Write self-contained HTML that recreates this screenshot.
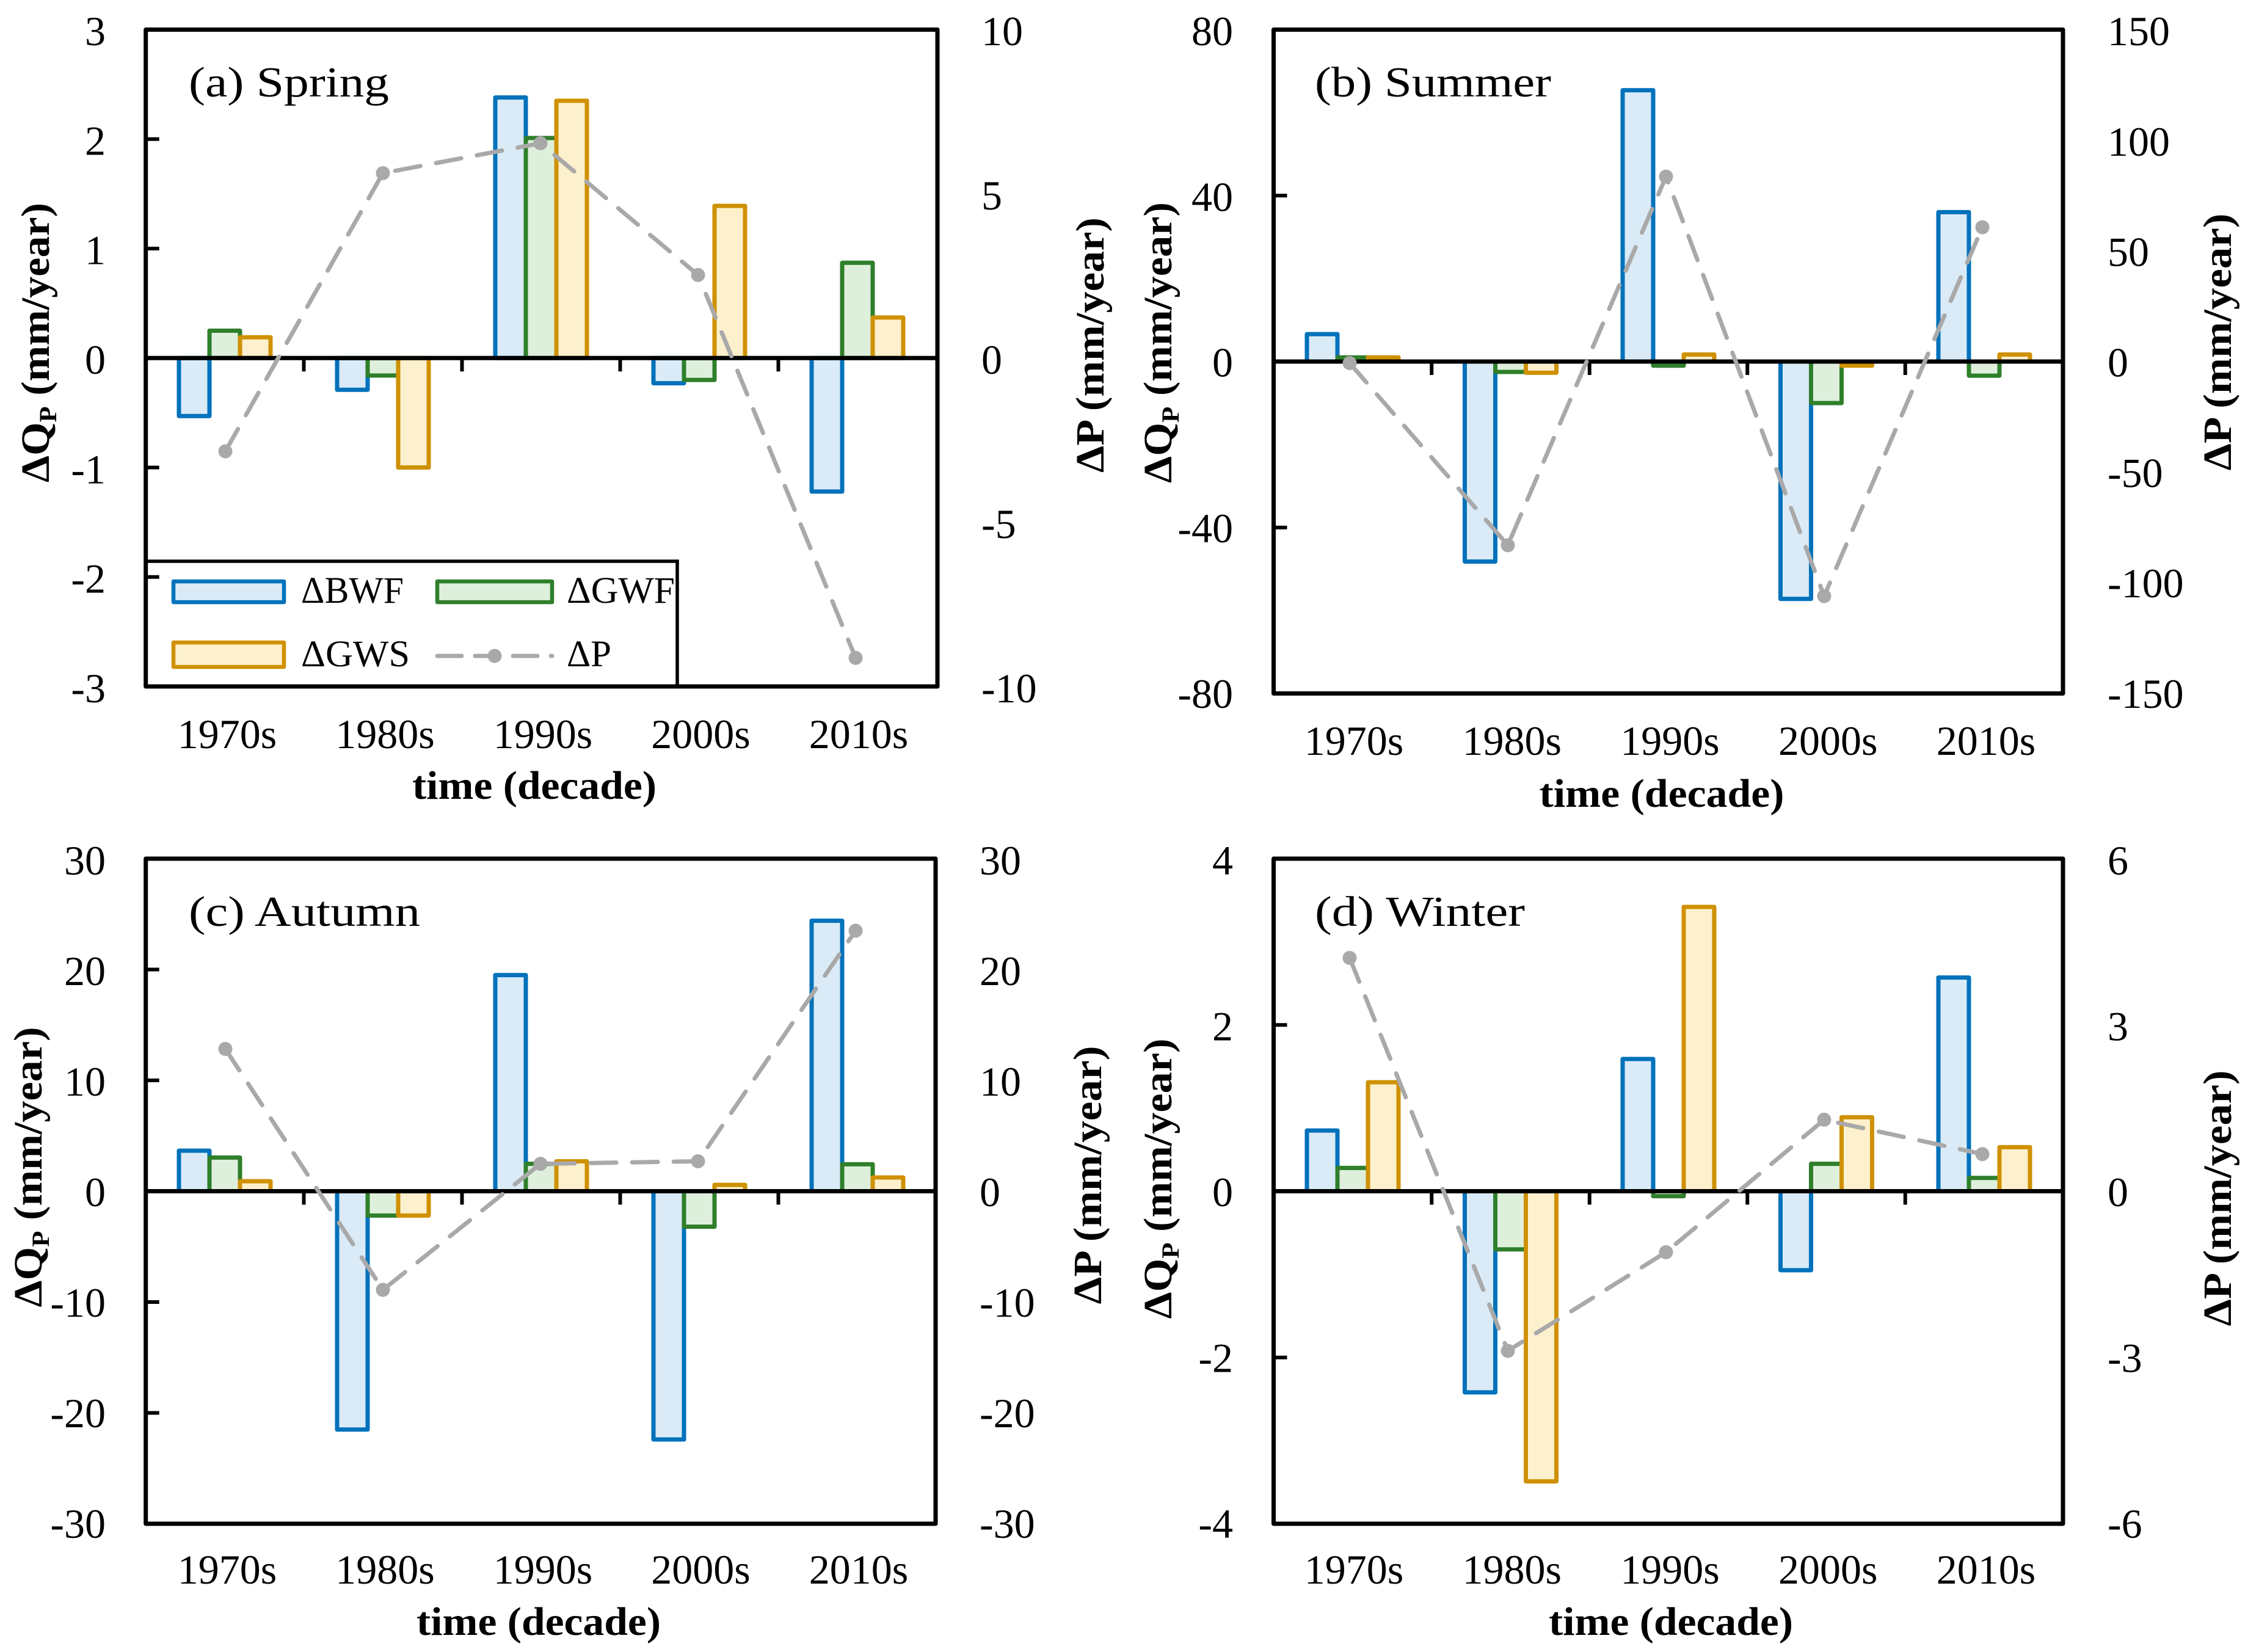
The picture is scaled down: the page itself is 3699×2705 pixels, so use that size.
<!DOCTYPE html>
<html lang="en">
<head>
<meta charset="utf-8">
<title>Seasonal changes in runoff components and precipitation</title>
<style>
html,body{margin:0;padding:0;background:#fff;}
svg{display:block;}
text{font-family:"Liberation Serif",serif;fill:#000;}
.tick{font-size:68px;}
.cat{font-size:68px;text-anchor:middle;}
.title{font-size:70px;}
.axt{font-size:66px;font-weight:bold;text-anchor:middle;}
.leg{font-size:61px;}
</style>
</head>
<body>
<svg id="figure" xmlns="http://www.w3.org/2000/svg" width="3699" height="2705" viewBox="0 0 3699 2705">
<rect width="3699" height="2705" fill="#fff"/>

<g id="panel-a">
  <g id="marks-a"></g>
  <rect x="238.7" y="48.5" width="1296.3" height="1075.5" fill="none" stroke="#000" stroke-width="7" stroke-linejoin="round"/>
  <text class="title" x="309" y="158" textLength="328" lengthAdjust="spacingAndGlyphs">(a) Spring</text>
  <text class="axt" transform="translate(80,561) rotate(-90)" textLength="458" lengthAdjust="spacingAndGlyphs">ΔQ<tspan font-size="40" dy="12">P</tspan><tspan dy="-12"> (mm/year)</tspan></text>
  <text class="axt" transform="translate(1807,565) rotate(-90)" textLength="418" lengthAdjust="spacingAndGlyphs">ΔP (mm/year)</text>
  <text class="axt" x="875" y="1308" textLength="400" lengthAdjust="spacingAndGlyphs">time (decade)</text>
</g>

<g id="panel-b">
  <g id="marks-b"></g>
  <rect x="2085.5" y="48.5" width="1292.5" height="1087" fill="none" stroke="#000" stroke-width="7" stroke-linejoin="round"/>
  <text class="title" x="2153" y="158" textLength="387" lengthAdjust="spacingAndGlyphs">(b) Summer</text>
  <text class="axt" transform="translate(1918,561) rotate(-90)" textLength="460" lengthAdjust="spacingAndGlyphs">ΔQ<tspan font-size="40" dy="12">P</tspan><tspan dy="-12"> (mm/year)</tspan></text>
  <text class="axt" transform="translate(3653,560) rotate(-90)" textLength="421" lengthAdjust="spacingAndGlyphs">ΔP (mm/year)</text>
  <text class="axt" x="2721" y="1321" textLength="401" lengthAdjust="spacingAndGlyphs">time (decade)</text>
</g>

<g id="panel-c">
  <g id="marks-c"></g>
  <rect x="238.7" y="1406" width="1293.3" height="1089" fill="none" stroke="#000" stroke-width="7" stroke-linejoin="round"/>
  <text class="title" x="309" y="1516" textLength="379" lengthAdjust="spacingAndGlyphs">(c) Autumn</text>
  <text class="axt" transform="translate(68,1911) rotate(-90)" textLength="459" lengthAdjust="spacingAndGlyphs">ΔQ<tspan font-size="40" dy="12">P</tspan><tspan dy="-12"> (mm/year)</tspan></text>
  <text class="axt" transform="translate(1803,1924) rotate(-90)" textLength="423" lengthAdjust="spacingAndGlyphs">ΔP (mm/year)</text>
  <text class="axt" x="882" y="2677" textLength="400" lengthAdjust="spacingAndGlyphs">time (decade)</text>
</g>

<g id="panel-d">
  <g id="marks-d"></g>
  <rect x="2085.5" y="1406" width="1292.5" height="1089" fill="none" stroke="#000" stroke-width="7" stroke-linejoin="round"/>
  <text class="title" x="2153" y="1516" textLength="344" lengthAdjust="spacingAndGlyphs">(d) Winter</text>
  <text class="axt" transform="translate(1918,1930) rotate(-90)" textLength="459" lengthAdjust="spacingAndGlyphs">ΔQ<tspan font-size="40" dy="12">P</tspan><tspan dy="-12"> (mm/year)</tspan></text>
  <text class="axt" transform="translate(3653,1962) rotate(-90)" textLength="419" lengthAdjust="spacingAndGlyphs">ΔP (mm/year)</text>
  <text class="axt" x="2736" y="2677" textLength="400" lengthAdjust="spacingAndGlyphs">time (decade)</text>
</g>

<g id="legend">
  <path d="M239 919H1109V1124" fill="none" stroke="#000" stroke-width="5.5"/>
  <rect x="284" y="952" width="181" height="34" fill="#daebf7" stroke="#0072bb" stroke-width="6.5" stroke-linejoin="round"/>
  <text class="leg" x="493" y="987" textLength="168" lengthAdjust="spacingAndGlyphs">ΔBWF</text>
  <rect x="716" y="952" width="188" height="34" fill="#def0dc" stroke="#2f7f2b" stroke-width="6.5" stroke-linejoin="round"/>
  <text class="leg" x="928" y="987" textLength="177" lengthAdjust="spacingAndGlyphs">ΔGWF</text>
  <rect x="284" y="1052" width="181" height="40" fill="#fdf0cc" stroke="#cf9100" stroke-width="6.5" stroke-linejoin="round"/>
  <text class="leg" x="493" y="1091" textLength="178" lengthAdjust="spacingAndGlyphs">ΔGWS</text>
  <line x1="716" y1="1074" x2="904" y2="1074" stroke="#a9a9a9" stroke-width="7" stroke-linecap="round" stroke-dasharray="40 22"/>
  <circle cx="810" cy="1074" r="11.5" fill="#a9a9a9"/>
  <text class="leg" x="928" y="1091" textLength="73" lengthAdjust="spacingAndGlyphs">ΔP</text>
</g>

<script>
const categories = ['1970s', '1980s', '1990s', '2000s', '2010s'];

const bwfSpring = [-0.53, -0.29, 2.38, -0.23, -1.22];
const gwfSpring = [0.25, -0.16, 2.01, -0.20, 0.87];
const gwsSpring = [0.19, -1.00, 2.35, 1.39, 0.37];
const precipSpring = [-2.84, 5.63, 6.54, 2.53, -9.13];
const leftTicksSpring = [3, 2, 1, 0, -1, -2, -3];
const rightTicksSpring = [10, 5, 0, -5, -10];

const bwfSummer = [6.6, -48.2, 65.4, -57.2, 36.0];
const gwfSummer = [1.0, -2.5, -1.0, -10.0, -3.4];
const gwsSummer = [1.0, -2.7, 1.7, -1.0, 1.7];
const precipSummer = [-0.7, -83.0, 83.6, -106.0, 60.7];
const leftTicksSummer = [80, 40, 0, -40, -80];
const rightTicksSummer = [150, 100, 50, 0, -50, -100, -150];

const bwfAutumn = [3.66, -21.5, 19.5, -22.4, 24.4];
const gwfAutumn = [3.04, -2.2, 2.47, -3.2, 2.43];
const gwsAutumn = [0.9, -2.2, 2.7, 0.57, 1.24];
const precipAutumn = [12.84, -8.9, 2.47, 2.7, 23.5];
const leftTicksAutumn = [30, 20, 10, 0, -10, -20, -30];
const rightTicksAutumn = [30, 20, 10, 0, -10, -20, -30];

const bwfWinter = [0.73, -2.42, 1.59, -0.95, 2.57];
const gwfWinter = [0.28, -0.70, -0.06, 0.33, 0.16];
const gwsWinter = [1.31, -3.49, 3.42, 0.89, 0.53];
const precipWinter = [4.21, -2.88, -1.10, 1.29, 0.67];
const leftTicksWinter = [4, 2, 0, -2, -4];
const rightTicksWinter = [6, 3, 0, -3, -6];

const SVGNS = 'http://www.w3.org/2000/svg';

function make(parent, tag, attrs, txt) {
  const el = document.createElementNS(SVGNS, tag);
  for (const k in attrs) el.setAttribute(k, attrs[k]);
  if (txt !== undefined) el.textContent = txt;
  parent.appendChild(el);
  return el;
}

const seriesStyles = [
  { key: 'bwf', fill: '#daebf7', stroke: '#0072bb' },
  { key: 'gwf', fill: '#def0dc', stroke: '#2f7f2b' },
  { key: 'gws', fill: '#fdf0cc', stroke: '#cf9100' }
];

function drawPanel(p) {
  const g = document.getElementById('marks-' + p.id);
  const mid = (p.top + p.bottom) / 2;
  const half = (p.bottom - p.top) / 2;
  const yLeft = v => mid - (v / p.leftMax) * half;
  const yRight = v => mid - (v / p.rightMax) * half;
  const barX = i => p.barX0 + p.barStep * i;
  const lineX = i => p.lineX0 + p.lineStep * i;
  const catX = i => p.catX0 + p.catStep * i;
  const labelY = (v, max) => (p.labelTop + p.labelBottom) / 2 - (v / max) * (p.labelBottom - p.labelTop) / 2 + 21;
  const barWidth = 50;

  [p.bwf, p.gwf, p.gws].forEach(function (values, s) {
    const st = seriesStyles[s];
    values.forEach(function (v, i) {
      const x = barX(i) - 75 + s * barWidth;
      const y0 = yLeft(0), y1 = yLeft(v);
      const bar = make(g, 'rect', {
        x: x, y: Math.min(y0, y1), width: barWidth, height: Math.abs(y1 - y0),
        fill: st.fill, stroke: st.stroke, 'stroke-width': 7, 'stroke-linejoin': 'round'
      });
      
      
    });
  });

  const zeroLine = make(g, 'line', { x1: p.left, x2: p.right, y1: yLeft(0), y2: yLeft(0), stroke: '#000', 'stroke-width': 7 });
  
  

  for (let i = 1; i < categories.length; i++) {
    const x = barX(i) - p.barStep / 2;
    const t = make(g, 'line', { x1: x, x2: x, y1: yLeft(0), y2: yLeft(0) + 22, stroke: '#000', 'stroke-width': 6 });
    
    
  }

  p.leftTicks.forEach(function (v) {
    const t = make(g, 'line', { x1: p.left, x2: p.left + 22, y1: yLeft(v), y2: yLeft(v), stroke: '#000', 'stroke-width': 6 });
    
    
    const lb = make(g, 'text', { class: 'tick', x: p.leftLabelX, y: labelY(v, p.leftMax), 'text-anchor': 'end' }, String(v));
    
    
  });

  p.rightTicks.forEach(function (v) {
    const lb = make(g, 'text', { class: 'tick', x: p.rightLabelX, y: labelY(v, p.rightMax) }, String(v));
    
    
  });

  categories.forEach(function (c, i) {
    const lb = make(g, 'text', { class: 'cat', x: catX(i), y: p.catBaseline }, c);
    
    
  });

  const pts = p.precip.map((v, i) => lineX(i) + ',' + yRight(v)).join(' ');
  const line = make(g, 'polyline', {
    points: pts, fill: 'none', stroke: '#a9a9a9', 'stroke-width': 7,
    'stroke-dasharray': '42 26', 'stroke-linecap': 'round'
  });
  
  

  p.precip.forEach(function (v, i) {
    const dot = make(g, 'circle', { cx: lineX(i), cy: yRight(v), r: 11.5, fill: '#a9a9a9' });
    
    
  });
}

drawPanel({ id: 'a', left: 238.7, right: 1535, top: 48.5, bottom: 1124, leftMax: 3, rightMax: 10,
  barX0: 368, barStep: 259, lineX0: 369, lineStep: 258, catX0: 372, catStep: 258.5, catBaseline: 1225,
  labelTop: 53, labelBottom: 1129, leftLabelX: 173, rightLabelX: 1607,
  bwf: bwfSpring, gwf: gwfSpring, gws: gwsSpring, precip: precipSpring, leftTicks: leftTicksSpring, rightTicks: rightTicksSpring });

drawPanel({ id: 'b', left: 2085.5, right: 3378, top: 48.5, bottom: 1135.5, leftMax: 80, rightMax: 150,
  barX0: 2215, barStep: 258.5, lineX0: 2210, lineStep: 259, catX0: 2217, catStep: 258.75, catBaseline: 1236,
  labelTop: 53, labelBottom: 1138, leftLabelX: 2019, rightLabelX: 3451,
  bwf: bwfSummer, gwf: gwfSummer, gws: gwsSummer, precip: precipSummer, leftTicks: leftTicksSummer, rightTicks: rightTicksSummer });

drawPanel({ id: 'c', left: 238.7, right: 1532, top: 1406, bottom: 2495, leftMax: 30, rightMax: 30,
  barX0: 368, barStep: 259, lineX0: 369, lineStep: 258, catX0: 372, catStep: 258.5, catBaseline: 2593,
  labelTop: 1411, labelBottom: 2497, leftLabelX: 173, rightLabelX: 1604,
  bwf: bwfAutumn, gwf: gwfAutumn, gws: gwsAutumn, precip: precipAutumn, leftTicks: leftTicksAutumn, rightTicks: rightTicksAutumn });

drawPanel({ id: 'd', left: 2085.5, right: 3378, top: 1406, bottom: 2495, leftMax: 4, rightMax: 6,
  barX0: 2215, barStep: 258.5, lineX0: 2210, lineStep: 259, catX0: 2217, catStep: 258.75, catBaseline: 2593,
  labelTop: 1411, labelBottom: 2497, leftLabelX: 2019, rightLabelX: 3451,
  bwf: bwfWinter, gwf: gwfWinter, gws: gwsWinter, precip: precipWinter, leftTicks: leftTicksWinter, rightTicks: rightTicksWinter });
</script>
</svg>
</body>
</html>
